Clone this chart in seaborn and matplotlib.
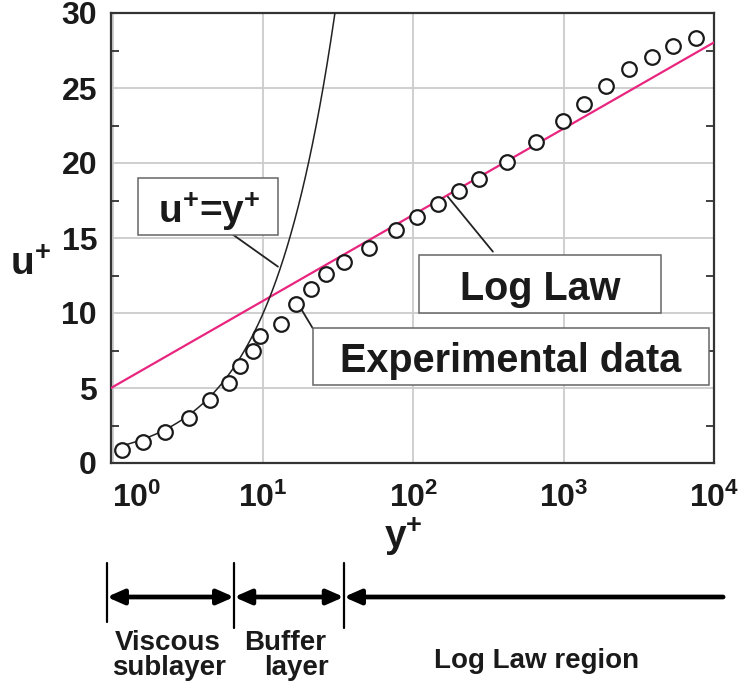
import numpy as np
import pandas as pd
import matplotlib
matplotlib.use("Agg")
import matplotlib.pyplot as plt
import seaborn as sns
from matplotlib.patches import Rectangle
from matplotlib.ticker import FixedLocator, NullLocator
from matplotlib.transforms import blended_transform_factory, ScaledTranslation

# ---------------- data ----------------
exp_yplus = [1.14, 1.58, 2.23, 3.2, 4.4, 5.9, 7.0, 8.6, 9.55, 13.1, 16.6, 20.8, 26.0,
             34.3, 50.8, 77, 106, 145, 201, 274, 418, 649, 987, 1361, 1898, 2724,
             3857, 5373, 7568]
exp_uplus = [0.89, 1.40, 2.09, 2.98, 4.22, 5.33, 6.44, 7.44, 8.44, 9.29, 10.57, 11.6,
             12.6, 13.4, 14.33, 15.55, 16.4, 17.27, 18.13, 18.95, 20.09, 21.4, 22.77,
             23.93, 25.15, 26.27, 27.09, 27.78, 28.33]
loglaw_yplus = [0.97, 10000]
loglaw_uplus = [5.0, 28.04]
# viscous sublayer relation u+ = y+
sub_yplus = np.geomspace(1.12, 31, 300)
sub_uplus = sub_yplus.copy()

xtick_vals = [1, 10, 100, 1000, 10000]
xtick_labels = [r"$10^{0}$", r"$10^{1}$", r"$10^{2}$", r"$10^{3}$", r"$10^{4}$"]
ytick_vals = [0, 5, 10, 15, 20, 25, 30]
region_bounds = [0.91, 6.4, 34.4, 11500]
region_names = ["Viscous\nsublayer", "Buffer\nlayer", "Log Law region"]

# ---------------- style ----------------
sns.set_theme(style="whitegrid")
plt.rcParams["font.family"] = ["Liberation Sans", "DejaVu Sans"]
plt.rcParams["font.weight"] = "bold"
plt.rcParams["mathtext.fontset"] = "custom"
plt.rcParams["mathtext.rm"] = "Liberation Sans:bold"
plt.rcParams["mathtext.bf"] = "Liberation Sans:bold"
plt.rcParams["mathtext.it"] = "Liberation Sans:bold"
plt.rcParams["mathtext.sf"] = "Liberation Sans:bold"

fig = plt.figure(figsize=(7.42, 6.91), dpi=100)
ax = fig.add_axes([111 / 742, 1 - 463 / 691, 603 / 742, 450 / 691])
ax.set_facecolor("white")

pink = "#E8267F"
df_log = pd.DataFrame({"y": loglaw_yplus, "u": loglaw_uplus})
df_sub = pd.DataFrame({"y": sub_yplus, "u": sub_uplus})
df_exp = pd.DataFrame({"y": exp_yplus, "u": exp_uplus})

sns.lineplot(data=df_log, x="y", y="u", color=pink, lw=1.6, ax=ax,
             estimator=None, sort=False, zorder=3)
sns.lineplot(data=df_sub, x="y", y="u", color="#222222", lw=1.1, ax=ax,
             estimator=None, sort=False, zorder=3)
ax.plot(df_exp["y"], df_exp["u"], ls="none", marker="o", ms=10.5, mfc="white",
        mec="#1a1a1a", mew=1.6, zorder=4, clip_on=False)

ax.set_xscale("log")
ax.set_xlim(0.97, 10000)
ax.set_ylim(0, 30)
ax.xaxis.set_major_locator(FixedLocator(xtick_vals))
ax.xaxis.set_minor_locator(NullLocator())
ax.set_xticklabels(xtick_labels)
ax.yaxis.set_major_locator(FixedLocator(ytick_vals))
ax.yaxis.set_minor_locator(FixedLocator([2.5, 7.5, 12.5, 17.5, 22.5, 27.5]))
ax.set_yticklabels([str(v) for v in ytick_vals])

ax.grid(True, which="major", color="#cccccc", lw=1.3)
for s in ax.spines.values():
    s.set_visible(True)
    s.set_color("#333333")
    s.set_linewidth(1.6)

ax.tick_params(axis="x", which="major", length=0, pad=14, labelsize=23, labelcolor="#1a1a1a")
ax.tick_params(axis="y", which="major", length=0, pad=10, labelsize=23, labelcolor="#1a1a1a")
ax.tick_params(axis="y", which="minor", direction="in", left=True, right=True,
               length=6, width=1.3, color="#333333")
for lab in ax.get_xticklabels() + ax.get_yticklabels():
    lab.set_fontweight("bold")

first = ax.xaxis.get_major_ticks()[0].label1
first.set_transform(first.get_transform() + ScaledTranslation(17 / 72, 0, fig.dpi_scale_trans))

ax.set_xlabel("")
ax.set_ylabel("")
ax.text((403 - 111) / 603, (463 - 548) / 450, r"y$^{+}$", transform=ax.transAxes,
        ha="center", va="baseline", fontsize=28, fontweight="bold", color="#1a1a1a")
ax.text((30 - 111) / 603, (463 - 275) / 450, r"u$^{+}$", transform=ax.transAxes,
        ha="center", va="baseline", fontsize=28, fontweight="bold", color="#1a1a1a")

# ---------------- callout boxes ----------------
def box(x0, y0, x1, y1):
    r = Rectangle(((x0 - 111) / 603, (463 - y1) / 450), (x1 - x0) / 603, (y1 - y0) / 450,
                  transform=ax.transAxes, facecolor="white", edgecolor="#666666",
                  lw=1.1, zorder=6, clip_on=False)
    ax.add_patch(r)

box(138, 178, 278, 235)
ax.text((209 - 111) / 603, (463 - 223) / 450, r"u$^{+}$=y$^{+}$", transform=ax.transAxes,
        ha="center", va="baseline", fontsize=28, fontweight="bold", zorder=7, color="#1a1a1a")
box(419, 255, 661, 313)
ax.text((540 - 111) / 603, (463 - 300) / 450, "Log Law", transform=ax.transAxes,
        ha="center", va="baseline", fontsize=28.5, fontweight="bold", zorder=7, color="#1a1a1a")
box(313, 328, 709, 385)
ax.text((510.5 - 111) / 603, (463 - 371.7) / 450, "Experimental data", transform=ax.transAxes,
        ha="center", va="baseline", fontsize=28.5, fontweight="bold", zorder=7, color="#1a1a1a")

# leader lines (data coordinates)
ax.plot([6.29, 12.53], [15.22, 13.09], color="#222222", lw=1.3, zorder=5)
ax.plot([169.4, 337.6], [17.75, 14.09], color="#222222", lw=1.3, zorder=5)
ax.plot([18.0, 21.3], [10.22, 9.0], color="#222222", lw=1.3, zorder=5)

# ---------------- region bar below axis ----------------
trans = blended_transform_factory(ax.transData, ax.transAxes)
ybar = (463 - 597) / 450
ytop = (463 - 563) / 450
ybot = (463 - 628) / 450
for i, xb in enumerate(region_bounds[:3]):
    yb = (463 - 622) / 450 if i == 0 else ybot
    ax.plot([xb, xb], [ytop, yb], color="black", lw=1.6, transform=trans, clip_on=False)

head = dict(color="black", lw=3.4, shrinkA=0, shrinkB=0, mutation_scale=20)
ax.annotate("", xy=(region_bounds[1], ybar), xytext=(region_bounds[0], ybar),
            xycoords=trans, textcoords=trans, annotation_clip=False,
            arrowprops=dict(arrowstyle="<|-|>,head_length=0.5,head_width=0.22", **head))
ax.annotate("", xy=(region_bounds[2], ybar), xytext=(region_bounds[1], ybar),
            xycoords=trans, textcoords=trans, annotation_clip=False,
            arrowprops=dict(arrowstyle="<|-|>,head_length=0.5,head_width=0.22", **head))
ax.annotate("", xy=(region_bounds[2], ybar), xytext=(region_bounds[3], ybar),
            xycoords=trans, textcoords=trans, annotation_clip=False,
            arrowprops=dict(arrowstyle="-|>,head_length=0.5,head_width=0.22", **head))

def ax_x(px):
    return (px - 111) / 603

def ax_y(py):
    return (463 - py) / 450

bottom_texts = [("Viscous", 167.5, 650), ("sublayer", 169.5, 675),
                ("Buffer", 285, 650), ("layer", 296, 675),
                ("Log Law region", 537, 668)]
for t, px, py in bottom_texts:
    ax.text(ax_x(px), ax_y(py), t, transform=ax.transAxes, ha="center", va="baseline",
            fontsize=20, fontweight="bold", color="#1a1a1a")

fig.savefig("out.png", dpi=100)
